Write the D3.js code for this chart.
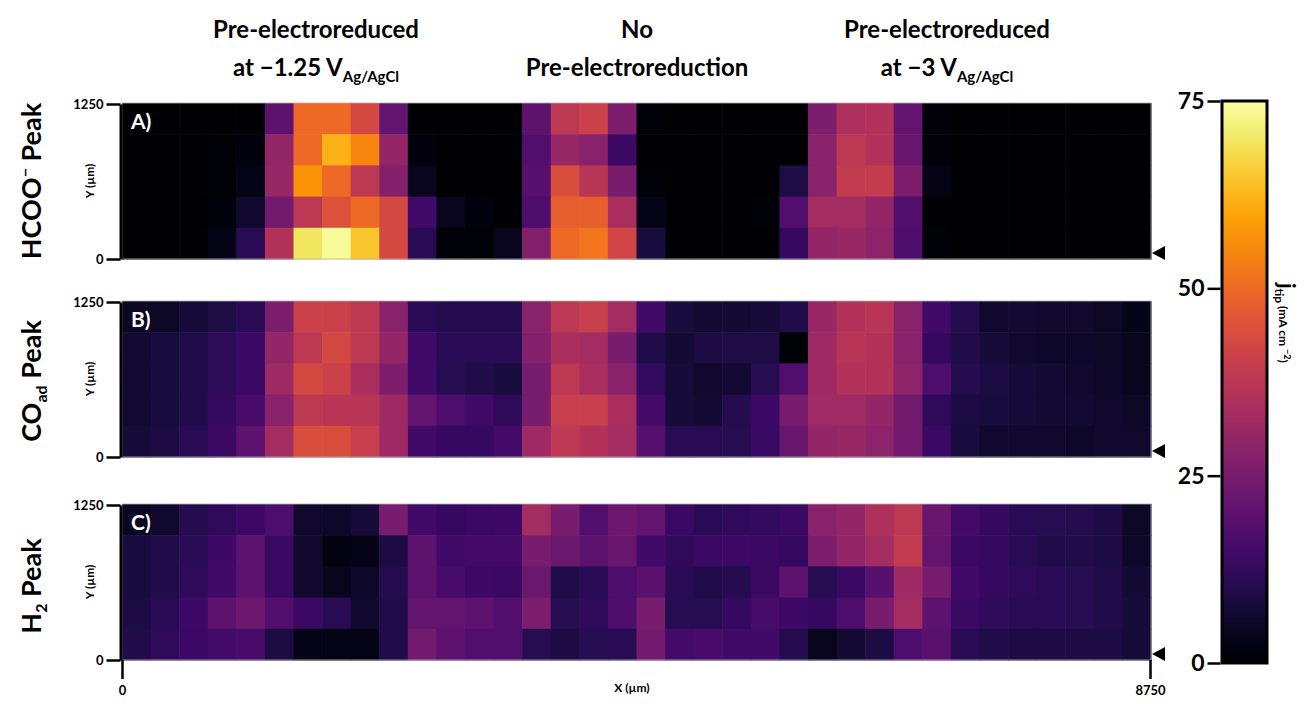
<!DOCTYPE html>
<html><head><meta charset="utf-8">
<script src="https://cdn.jsdelivr.net/npm/d3@7"></script>
<style>
body{margin:0;background:#fff}
text{font-family:Lato,"Open Sans",sans-serif;font-weight:700;fill:#000}
</style>
</head><body><svg id="c" width="1304" height="704"></svg>
<script>
// ---------- data ----------
const xPositions = [0,250,500,750,1000,1250,1500,1750,2000,2250,2500,2750,3000,3250,3500,3750,4000,4250,4500,4750,5000,5250,5500,5750,6000,6250,6500,6750,7000,7250,7500,7750,8000,8250,8500,8750];
const yPositions = [1000,750,500,250,0]; // rows, top to bottom
const hcooPeak = [
 [0,0,0,0,0, 20,50,50,43,21, 0,0,0,0, 20,38,41,26, 1, 0,0,0,0,0, 26,35,36,21, 1, 0,0,0,0,0,0,0],
 [0,0,0,1,2, 30,50,62,55,30, 2,0,0,0, 18,31,28,14, 0, 0,0,0,0.5,0.5, 28,38,36,22, 1, 0,0,0,0,0,0,0],
 [0,0,0.3,1,3, 31,57,50,38,27, 4,0,0,0, 19,44,37,25, 1, 0,0,0,0,9, 28,39,39,26, 3, 0,0,0,0,0,0,0],
 [0,0,0,1.5,6, 24,38,45,50,43, 15,4,2,0, 17,48,48,34, 3, 0,0,0,1,18, 33,33,30,18, 0, 0,0,0,0,0,0,0],
 [0,0,0.5,3,11, 36,70,74,65,43, 11,1,1,4, 27,50,52,42, 8, 0,0,0,0,13, 30,31,29,17, 1, 0,0,0,0,0,0,0]
];
const coAdPeak = [
 [4.5,5,7.5,9,11, 26,41,41,38,28, 11,10,10,10, 28,38,40,33, 15, 8,7,7,7.5,9.5, 31,36,37,28, 15, 10,6,6.5,6,6,5,3.5],
 [6.5,8,9.5,11.5,13.5, 30,38,43,38,30, 15,11,11,11, 27,34,33,25, 9.5, 7,8.5,9,9,1, 32,37,36,28, 13, 9.5,7.5,6,5.5,5.5,5,4],
 [6.5,8,9.5,11.5,13.5, 32,43,41,34,26, 15,10.5,9.5,8, 25,38,34,28, 12.5, 7.5,6,6.5,10.5,18, 32,36,36,29, 17, 10,8.5,7.5,7,6,5.5,4],
 [6.5,8,9.5,13,16, 28,38,37,37,32, 21,17,15,12, 25,40,40,34, 15.5, 7.5,7,10,14.5,25, 32.5,32.5,30,24, 12, 8.5,8,7.5,7,6.5,6,5],
 [7.5,8.5,11,14,20, 33,44,44,40,32, 15,13,13,15.5, 32,38,36,33, 19, 11,11,10.5,13.5,22, 30,31,29,24, 13.5, 8,6,6,6,5.5,6,6]
];
const h2Peak = [
 [4.5,6,10,12,14.5, 17,6,5.5,7.5,25, 15,13,14,14.5, 33,25,18,23, 21, 14,11,12,12.5,14, 28,30,35,38, 22, 15.5,13,11,10.5,10,8.5,5],
 [8,9.5,11,14.5,20, 13.5,6,2.5,3,8.5, 20,15,15.5,15.5, 25,22.5,20,22, 15, 12,14,14.5,14,13, 26,30,33,39, 21, 14,13,11,9.5,9.5,8.5,5.5],
 [8,9.5,12,15,20, 13.5,6,4,5.5,10, 20,16,14.5,14, 22.5,9.5,11,17, 19.5, 11,9.5,10,14,20, 10.5,13.5,19,32, 25, 15,13,12,11,10.5,9.5,7],
 [8.5,11,14.5,20,23, 18,14,11,6,9.5, 21,21,20,18, 25.5,10.5,12,17.5, 25, 10.5,10.5,13,16,14.5, 13,17,25,33, 20, 13.5,12,11,11,10.5,9.5,7.5],
 [9.5,12,14,15.5,16, 8.5,3.5,3,3,9.5, 24,20,18,18, 10.5,8.5,10.5,11, 24, 15.5,16,15,15,10, 4,7,8.5,17, 19.5, 11,9.5,8.5,8.5,8.5,8.5,7.5]
];
const panelLetters = ["A)","B)","C)"];
const yTicks = [0,1250];
const xTicks = [0,8750];
const colorTicks = [0,25,50,75];
const colorDomain = [0,75];

// ---------- drawing ----------
const svg = d3.select("#c");
const left = 122, right = 1151, ph = 156;
const tops = [103, 301, 504];
const color = d3.scaleSequential(d3.interpolateInferno).domain(colorDomain);
const datasets = [hcooPeak, coAdPeak, h2Peak];

const xBand = d3.scaleBand().domain(xPositions).range([left, right]);
const xLin = d3.scaleLinear().domain([0, 8750]).range([left, right - 1]);

datasets.forEach((data, p) => {
  const top = tops[p];
  const yBand = d3.scaleBand().domain(yPositions).range([top, top + ph]);
  const g = svg.append("g");
  data.forEach((row, r) => {
    g.selectAll(null).data(row).enter().append("rect")
      .attr("x", (d, i) => xBand(xPositions[i]))
      .attr("y", yBand(yPositions[r]))
      .attr("width", xBand.bandwidth() + 0.6)
      .attr("height", yBand.bandwidth() + 0.6)
      .attr("fill", d => color(d));
  });
  g.append("rect").attr("x", left).attr("y", top).attr("width", right - left).attr("height", ph)
    .attr("fill", "none").attr("stroke", "#b0b0b0").attr("stroke-width", 0.8);
  // panel letter
  g.append("text").attr("x", 131).attr("y", top + 26).text(panelLetters[p])
    .style("fill", "#fff").style("font-size", "21px");
  // y axis
  const yLin = d3.scaleLinear().domain([0, 1250]).range([top + ph, top + 1]);
  const ax = svg.append("g").attr("transform", `translate(${left - 1.5},0)`)
    .call(d3.axisLeft(yLin).tickValues(yTicks).tickSize(14).tickSizeOuter(0).tickPadding(3).tickFormat(d3.format("d")));
  ax.select(".domain").attr("stroke", "#000").attr("stroke-width", 3);
  ax.selectAll(".tick line").attr("stroke-width", 2.5);
  ax.selectAll(".tick text").style("font-size", "13px").style("font-family", "Lato,sans-serif").style("font-weight", 700);
  svg.append("text").attr("transform", `translate(94,${top + ph / 2}) rotate(-90)`)
    .attr("text-anchor", "middle").style("font-size", "12px").text("Y (µm)");
  // marker triangle
  const yc = yBand(0) + yBand.bandwidth() - 6;
  svg.append("path").attr("d", `M${right + 1},${yc} L${right + 14},${yc - 7} L${right + 14},${yc + 7} Z`).attr("fill", "#000");
});

// x axis on bottom panel
const xa = svg.append("g").attr("transform", `translate(0,${tops[2] + ph})`)
  .call(d3.axisBottom(xLin).tickValues(xTicks).tickSize(19).tickSizeOuter(0).tickPadding(7).tickFormat(d3.format("d")));
xa.select(".domain").remove();
xa.selectAll(".tick line").attr("stroke-width", 2.5);
xa.selectAll(".tick text").style("font-size", "13px").style("font-family", "Lato,sans-serif").style("font-weight", 700);
svg.append("text").attr("x", 632).attr("y", 692).attr("text-anchor", "middle").style("font-size", "12px").text("X (µm)");

// column headers
const headers = [
  {x: 316, l1: "Pre-electroreduced", l2: "at \u22121.25 V", sub: "Ag/AgCl"},
  {x: 637, l1: "No", l2: "Pre-electroreduction", sub: ""},
  {x: 947, l1: "Pre-electroreduced", l2: "at \u22123 V", sub: "Ag/AgCl"}
];
headers.forEach(h => {
  svg.append("text").attr("x", h.x).attr("y", 38).attr("text-anchor", "middle").style("font-size", "24px").text(h.l1);
  const t = svg.append("text").attr("x", h.x).attr("y", 76).attr("text-anchor", "middle").style("font-size", "24px");
  t.append("tspan").text(h.l2);
  if (h.sub) t.append("tspan").attr("dy", 6).style("font-size", "15px").text(h.sub);
});

// row labels
const rl1 = svg.append("text").attr("transform", `translate(41,${tops[0] + ph / 2}) rotate(-90)`).attr("text-anchor", "middle").style("font-size", "27px");
rl1.append("tspan").text("HCOO");
rl1.append("tspan").attr("dy", -10).style("font-size", "16px").text("\u2212");
rl1.append("tspan").attr("dy", 10).text(" Peak");
const rl2 = svg.append("text").attr("transform", `translate(41,${tops[1] + ph / 2 + 2}) rotate(-90)`).attr("text-anchor", "middle").style("font-size", "27px");
rl2.append("tspan").text("CO");
rl2.append("tspan").attr("dy", 6).style("font-size", "16px").text("ad");
rl2.append("tspan").attr("dy", -6).text(" Peak");
const rl3 = svg.append("text").attr("transform", `translate(41,${tops[2] + ph / 2 + 4}) rotate(-90)`).attr("text-anchor", "middle").style("font-size", "27px");
rl3.append("tspan").text("H");
rl3.append("tspan").attr("dy", 6).style("font-size", "16px").text("2");
rl3.append("tspan").attr("dy", -6).text(" Peak");

// colorbar
const cbX = 1222, cbW = 45, cbTop = 101, cbBot = 663;
const defs = svg.append("defs");
const grad = defs.append("linearGradient").attr("id", "cb").attr("x1", 0).attr("y1", 1).attr("x2", 0).attr("y2", 0);
d3.range(0, 1.0001, 0.05).forEach(t => grad.append("stop").attr("offset", t).attr("stop-color", d3.interpolateInferno(t)));
svg.append("rect").attr("x", cbX).attr("y", cbTop).attr("width", cbW).attr("height", cbBot - cbTop)
  .attr("fill", "url(#cb)").attr("stroke", "#000").attr("stroke-width", 3);
const cScale = d3.scaleLinear().domain(colorDomain).range([cbBot, cbTop]);
const ca = svg.append("g").attr("transform", `translate(${cbX - 1.5},0)`)
  .call(d3.axisLeft(cScale).tickValues(colorTicks).tickSize(13).tickSizeOuter(0).tickPadding(3));
ca.select(".domain").remove();
ca.selectAll(".tick line").attr("stroke-width", 2.5);
ca.selectAll(".tick text").style("font-size", "23px").style("font-family", "Lato,sans-serif").style("font-weight", 700);
const cl = svg.append("text").attr("transform", `translate(1279,${283}) rotate(90)`).attr("text-anchor", "start").style("font-size", "22px");
cl.append("tspan").text("j");
cl.append("tspan").attr("dy", 4).style("font-size", "12px").text("tip ");
cl.append("tspan").attr("dy", -4).style("font-size", "12px").text("(mA cm ");
cl.append("tspan").attr("dy", -5).style("font-size", "9px").text("\u22122");
cl.append("tspan").attr("dy", 5).style("font-size", "12px").text(")");
</script>
</body></html>
